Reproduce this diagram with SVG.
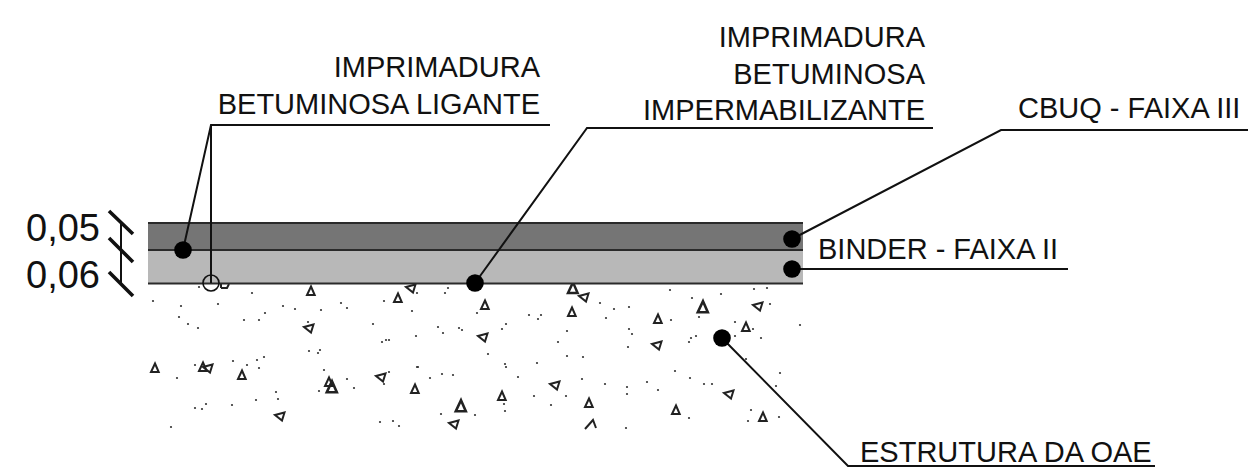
<svg xmlns="http://www.w3.org/2000/svg" width="1248" height="472" viewBox="0 0 1248 472">
<style>
text{font-family:"Liberation Sans",Arial,sans-serif;font-size:29px;fill:#111}
.e{text-anchor:end}
.dim{font-size:38px}
.l{stroke:#111;stroke-width:2;fill:none}
.b{stroke:#111;stroke-width:3.6;fill:none}
.d{fill:#000}
.g{stroke:#2a2a2a;stroke-width:2.2;fill:none}
.t{stroke:#222;stroke-width:2;fill:none}
.s{fill:#333}
</style>
<defs>
<path id="u" d="M0-4.500L3.700 4L-4 4Z"/>
<path id="w" d="M-5-1L4.500-3.500L2 4.500Z"/>
<circle id="p" r="1.1"/>
</defs>
<g id="estrutura-agregados">
<g class="t">
<use href="#u" x="311" y="291"/><use href="#u" x="398" y="298"/><use href="#w" x="411" y="288"/><use href="#w" x="309" y="328"/><use href="#u" x="155" y="368"/><use href="#u" x="203" y="367"/><use href="#w" x="208" y="368"/><use href="#u" x="242" y="375"/><use href="#u" x="329" y="382"/><use href="#u" transform="translate(332 387) scale(1.3)"/><use href="#w" x="381" y="377"/><use href="#u" x="415" y="389"/><use href="#w" x="280" y="416"/><use href="#u" x="485" y="305"/><use href="#w" x="483" y="337"/><use href="#u" transform="translate(573 288) scale(1.25)"/><use href="#w" x="584" y="297"/><use href="#u" x="572" y="312"/><use href="#u" x="658" y="319"/><use href="#w" x="657" y="345"/><use href="#u" transform="translate(703 307) scale(1.3)"/><use href="#w" x="758" y="306"/><use href="#u" x="746" y="327"/><use href="#u" x="502" y="396"/><use href="#u" transform="translate(461 406) scale(1.3)"/><use href="#w" x="454" y="424"/><use href="#w" x="555" y="385"/><use href="#u" x="589" y="403"/><path d="M585 429L593 420L596 428"/><use href="#u" x="676" y="410"/><use href="#w" x="729" y="394"/><use href="#u" x="763" y="417"/><path d="M221 288L227 288L229 284M221 288L221 284"/>
</g>
<g class="s">
<use href="#p" x="199" y="287"/><use href="#p" x="153" y="301"/><use href="#p" x="181" y="306"/><use href="#p" x="218" y="304"/><use href="#p" x="252" y="293"/><use href="#p" x="179" y="317"/><use href="#p" x="188" y="324"/><use href="#p" x="198" y="328"/><use href="#p" x="244" y="320"/><use href="#p" x="259" y="320"/><use href="#p" x="265" y="313"/><use href="#p" x="283" y="306"/><use href="#p" x="295" y="309"/><use href="#p" x="321" y="310"/><use href="#p" x="341" y="303"/><use href="#p" x="347" y="308"/><use href="#p" x="384" y="301"/><use href="#p" x="373" y="324"/><use href="#p" x="412" y="311"/><use href="#p" x="416" y="336"/><use href="#p" x="382" y="342"/><use href="#p" x="386" y="340"/><use href="#p" x="389" y="340"/><use href="#p" x="308" y="322"/><use href="#p" x="309" y="351"/><use href="#p" x="318" y="353"/><use href="#p" x="320" y="350"/><use href="#p" x="324" y="370"/><use href="#p" x="347" y="379"/><use href="#p" x="354" y="388"/><use href="#p" x="319" y="391"/><use href="#p" x="389" y="372"/><use href="#p" x="384" y="384"/><use href="#p" x="418" y="367"/><use href="#p" x="177" y="378"/><use href="#p" x="195" y="365"/><use href="#p" x="233" y="361"/><use href="#p" x="247" y="365"/><use href="#p" x="257" y="360"/><use href="#p" x="264" y="357"/><use href="#p" x="259" y="368"/><use href="#p" x="276" y="392"/><use href="#p" x="278" y="399"/><use href="#p" x="256" y="400"/><use href="#p" x="232" y="405"/><use href="#p" x="195" y="408"/><use href="#p" x="202" y="409"/><use href="#p" x="206" y="404"/><use href="#p" x="171" y="427"/><use href="#p" x="380" y="422"/><use href="#p" x="393" y="421"/><use href="#p" x="399" y="426"/>
<use href="#p" x="417" y="293"/><use href="#p" x="445" y="293"/><use href="#p" x="448" y="288"/><use href="#p" x="477" y="313"/><use href="#p" x="529" y="315"/><use href="#p" x="541" y="315"/><use href="#p" x="538" y="319"/><use href="#p" x="506" y="324"/><use href="#p" x="502" y="329"/><use href="#p" x="438" y="327"/><use href="#p" x="443" y="333"/><use href="#p" x="459" y="328"/><use href="#p" x="462" y="330"/><use href="#p" x="488" y="354"/><use href="#p" x="567" y="331"/><use href="#p" x="558" y="342"/><use href="#p" x="567" y="356"/><use href="#p" x="583" y="357"/><use href="#p" x="505" y="364"/><use href="#p" x="506" y="367"/><use href="#p" x="537" y="363"/><use href="#p" x="518" y="377"/><use href="#p" x="417" y="367"/><use href="#p" x="430" y="378"/><use href="#p" x="442" y="374"/><use href="#p" x="453" y="375"/><use href="#p" x="582" y="379"/><use href="#p" x="605" y="384"/><use href="#p" x="627" y="387"/><use href="#p" x="627" y="394"/><use href="#p" x="647" y="382"/><use href="#p" x="658" y="390"/><use href="#p" x="675" y="371"/><use href="#p" x="690" y="378"/><use href="#p" x="704" y="384"/><use href="#p" x="712" y="384"/><use href="#p" x="746" y="359"/><use href="#p" x="780" y="373"/><use href="#p" x="776" y="386"/><use href="#p" x="534" y="396"/><use href="#p" x="566" y="396"/><use href="#p" x="551" y="405"/><use href="#p" x="504" y="404"/><use href="#p" x="505" y="411"/><use href="#p" x="441" y="414"/><use href="#p" x="475" y="415"/><use href="#p" x="626" y="428"/><use href="#p" x="689" y="418"/><use href="#p" x="751" y="410"/><use href="#p" x="748" y="421"/><use href="#p" x="779" y="417"/><use href="#p" x="600" y="303"/><use href="#p" x="614" y="309"/><use href="#p" x="629" y="307"/><use href="#p" x="606" y="318"/><use href="#p" x="670" y="290"/><use href="#p" x="692" y="298"/><use href="#p" x="721" y="294"/><use href="#p" x="754" y="289"/><use href="#p" x="767" y="288"/><use href="#p" x="770" y="304"/><use href="#p" x="699" y="317"/><use href="#p" x="671" y="320"/><use href="#p" x="735" y="322"/><use href="#p" x="753" y="329"/><use href="#p" x="735" y="336"/><use href="#p" x="761" y="338"/><use href="#p" x="800" y="325"/><use href="#p" x="629" y="329"/><use href="#p" x="632" y="334"/><use href="#p" x="628" y="347"/><use href="#p" x="696" y="336"/><use href="#p" x="691" y="338"/><use href="#p" x="689" y="342"/>
</g>
</g>
<g id="camadas">
<rect x="148" y="222" width="655" height="28" fill="#757575"/>
<rect x="148" y="250" width="655" height="34" fill="#b8b8b8"/>
<path class="g" d="M148 223H803M148 250H803M148 283.500H803"/>
</g>
<g id="connectors">
<path class="l" d="M550 125H211L183 250M211 125V283"/>
<path class="l" d="M933 128H587L475 283"/>
<path class="l" d="M1248 130H1001L792 239"/>
<path class="l" d="M792 269H1068"/>
<path class="l" d="M722 338L848 466H1155"/>
<circle class="d" cx="183" cy="250" r="8.800"/>
<circle class="d" cx="475" cy="283" r="8.800"/>
<circle class="d" cx="792" cy="239" r="8.800"/>
<circle class="d" cx="792" cy="269" r="8.800"/>
<circle class="d" cx="722" cy="338" r="8.800"/>
<circle cx="211" cy="283" r="8" fill="none" stroke="#111" stroke-width="1.600"/>
</g>
<g id="cotas">
<path class="l" d="M121 223V284"/>
<path class="b" d="M109 211L133 234M109 238L133 262M109 272L133 296"/>
<text class="dim" x="26" y="241">0,05</text>
<text class="dim" x="26" y="288">0,06</text>
</g>
<g id="imprimadura-ligante"><text class="e" x="540" y="77">IMPRIMADURA</text><text class="e" x="540" y="114">BETUMINOSA LIGANTE</text></g>
<g id="imprimadura-impermeabilizante"><text class="e" x="925" y="47">IMPRIMADURA</text><text class="e" x="925" y="84">BETUMINOSA</text><text class="e" x="925" y="120">IMPERMABILIZANTE</text></g>
<g id="cbuq"><text x="1018" y="118">CBUQ - FAIXA III</text></g>
<g id="binder"><text x="818" y="259">BINDER - FAIXA II</text></g>
<g id="estrutura"><text x="860" y="462">ESTRUTURA DA OAE</text></g>
</svg>
